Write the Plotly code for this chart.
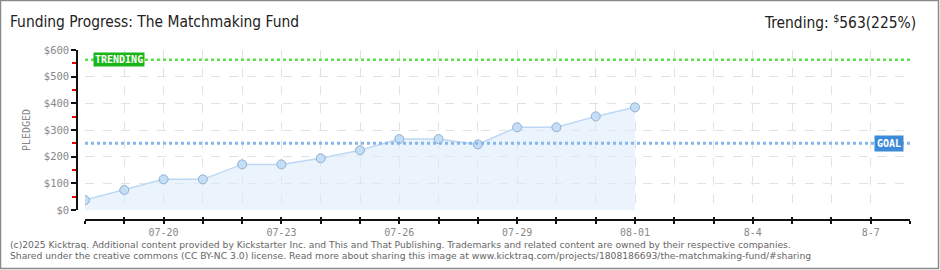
import plotly.graph_objects as go

# ---- data ----
dates = ["2025-07-18", "2025-07-19", "2025-07-20", "2025-07-21", "2025-07-22",
         "2025-07-23", "2025-07-24", "2025-07-25", "2025-07-26", "2025-07-27",
         "2025-07-28", "2025-07-29", "2025-07-30", "2025-07-31", "2025-08-01"]
pledged = [37, 75, 115, 115, 171, 171, 194, 224, 266, 266, 246, 310, 310, 351, 385]
goal = 250
trending = 563
x_start, x_end = "2025-07-18", "2025-08-08"
tick_vals = ["2025-07-20", "2025-07-23", "2025-07-26", "2025-07-29", "2025-08-01",
             "2025-08-04", "2025-08-07"]
tick_text = ["07-20", "07-23", "07-26", "07-29", "08-01", "8-4", "8-7"]
y_ticks = [0, 100, 200, 300, 400, 500, 600]
y_tick_text = ["$0", "$100", "$200", "$300", "$400", "$500", "$600"]

title_text = "Funding Progress: The Matchmaking Fund"
trend_text = "Trending: <sup>$</sup>563(225%)"
footer1 = ("(c)2025 Kicktraq. Additional content provided by Kickstarter Inc. and This and That "
           "Publishing. Trademarks and related content are owned by their respective companies.")
footer2 = ("Shared under the creative commons (CC BY-NC 3.0) license. Read more about sharing this "
           "image at www.kicktraq.com/projects/1808186693/the-matchmaking-fund/#sharing")

# ---- geometry ----
W, H = 940, 270
ML, MR, MT, MB = 77, 30, 50, 50
PW = W - ML - MR
PH = H - MT - MB
def px(x):
    return (x - ML) / PW
def py(y):
    return (H - MB - y) / PH

DAY = 86400000
pix_font = "DejaVu Sans Mono"
title_font = "DejaVu Sans Condensed, DejaVu Sans"

fig = go.Figure()
fig.add_trace(go.Scatter(
    x=dates, y=pledged, mode="lines+markers", fill="tozeroy",
    fillcolor="rgba(222,236,252,0.6)",
    line=dict(color="#bcd8f4", width=1.5),
    marker=dict(size=9, color="#c5def8", line=dict(color="#93afcc", width=1)),
    hoverinfo="skip", showlegend=False))
# invisible trace for overlay axis (inward half of the crossing ticks)
fig.add_trace(go.Scatter(x=[x_start], y=[0], xaxis="x2", mode="markers",
                         marker=dict(opacity=0), showlegend=False, hoverinfo="skip"))

# goal & trending lines
fig.add_trace(go.Scatter(x=[x_start, x_end], y=[goal, goal], mode="lines",
                         line=dict(color="#86b6ea", width=3, dash="dot"),
                         showlegend=False, hoverinfo="skip"))
fig.add_trace(go.Scatter(x=[x_start, x_end], y=[trending, trending], mode="lines",
                         line=dict(color="#5ee04e", width=2.5, dash="dot"),
                         showlegend=False, hoverinfo="skip"))

xdom = [px(85), 1]
fig.update_layout(
    width=W, height=H, margin=dict(l=ML, r=MR, t=MT, b=MB),
    paper_bgcolor="white", plot_bgcolor="white",
    xaxis=dict(type="date", range=[x_start, x_end], domain=xdom, anchor="free", position=0,
               tickvals=tick_vals, ticktext=tick_text, ticks="outside", ticklen=3,
               tickcolor="#111", tickwidth=1.5, showline=True, linecolor="#111", linewidth=1.5,
               showgrid=True, gridcolor="#e2e2e2", griddash="dash", gridwidth=1,
               minor=dict(dtick=DAY, tick0=x_start, ticks="outside", ticklen=3,
                          tickcolor="#111", tickwidth=1.5, showgrid=True,
                          gridcolor="#e2e2e2", griddash="dash", gridwidth=1),
               zeroline=False, tickfont=dict(family=pix_font, size=10, color="#888"),
               tickangle=0),
    xaxis2=dict(type="date", range=[x_start, x_end], domain=xdom, anchor="free", position=0,
                overlaying="x", dtick=DAY, tick0=x_start, showticklabels=False,
                ticks="inside", ticklen=3, tickcolor="#111", tickwidth=1.5,
                showline=False, showgrid=False, zeroline=False),
    yaxis=dict(range=[0, 600], domain=[py(210), 1], anchor="free", position=0,
               tickvals=y_ticks, ticktext=y_tick_text, ticks="outside", ticklen=5,
               tickcolor="#111", tickwidth=1.5, showline=True, linecolor="#111", linewidth=1.5,
               showgrid=True, gridcolor="#e2e2e2", griddash="dash", gridwidth=1,
               zeroline=False, tickfont=dict(family=pix_font, size=10.5, color="#888"),
               minor=dict(dtick=50, tick0=0, ticks="outside", ticklen=4, tickcolor="#e00000",
                          tickwidth=1.5, showgrid=False),
               title=dict(text="PLEDGED", standoff=10,
                          font=dict(family=pix_font, size=10, color="#888"))),
)

annotations = [
    dict(text=title_text, x=px(8), y=py(22), xref="paper", yref="paper", xanchor="left",
         yanchor="middle", showarrow=False,
         font=dict(family=title_font, size=15.4, color="#222")),
    dict(text=trend_text, x=px(918), y=py(22), xref="paper", yref="paper", xanchor="right",
         yanchor="middle", showarrow=False,
         font=dict(family=title_font, size=15.4, color="#222")),
    dict(text=footer1, x=px(8), y=py(244), xref="paper", yref="paper", xanchor="left",
         yanchor="middle", showarrow=False,
         font=dict(family="DejaVu Sans", size=9.2, color="#666")),
    dict(text=footer2, x=px(8), y=py(256), xref="paper", yref="paper", xanchor="left",
         yanchor="middle", showarrow=False,
         font=dict(family="DejaVu Sans", size=9.2, color="#666")),
    dict(text="<b>TRENDING</b>", x=px(93), y=trending, xref="paper", yref="y", xanchor="left",
         yanchor="middle", showarrow=False, bgcolor="#19b519", borderpad=1,
         font=dict(family=pix_font, size=10, color="white")),
    dict(text="<b>GOAL</b>", x=px(904), y=goal, xref="paper", yref="y", xanchor="right",
         yanchor="middle", showarrow=False, bgcolor="#3c8ad8", borderpad=2,
         font=dict(family=pix_font, size=10, color="white")),
]
fig.update_layout(annotations=annotations)

fig.add_shape(type="rect", xref="paper", yref="paper",
              x0=px(0.5), x1=px(W - 1.5), y0=py(0.5), y1=py(H - 1.5),
              line=dict(color="#8a8a8a", width=1.5), fillcolor="rgba(0,0,0,0)")

fig.write_html("out.html")
